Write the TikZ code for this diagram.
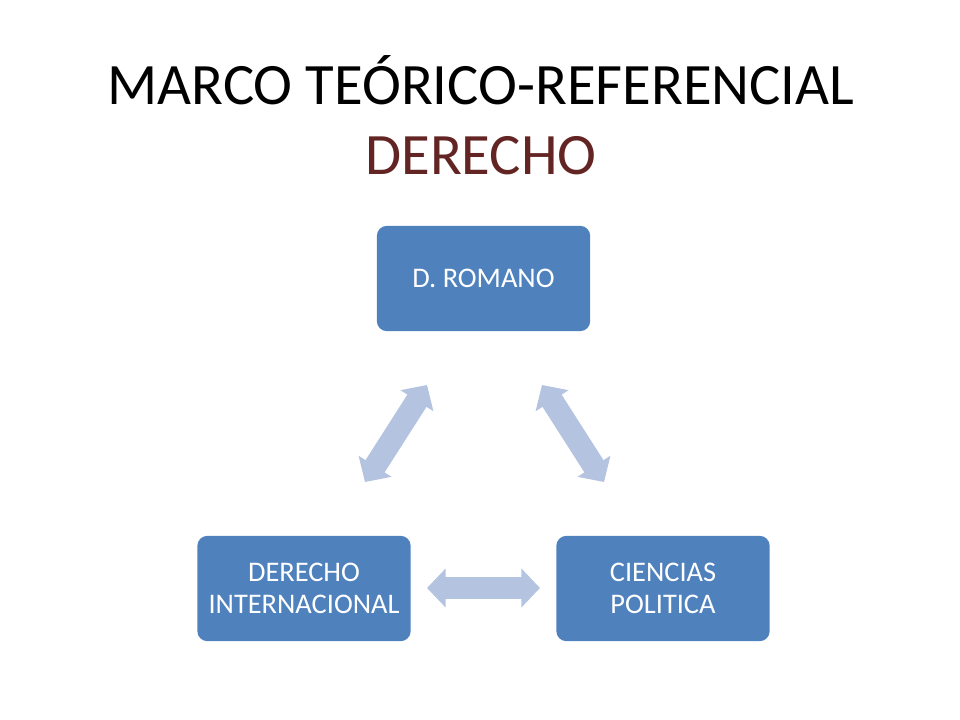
\documentclass[tikz,border=0pt]{standalone}
\usepackage{fontspec}
\setmainfont{Carlito}
\usetikzlibrary{arrows.meta}
\definecolor{boxblue}{RGB}{79,129,189}
\definecolor{arrowblue}{RGB}{179,195,224}
\definecolor{titlered}{RGB}{99,37,35}
\tikzset{
  box/.style={fill=boxblue, rounded corners=7.5pt, minimum width=160pt, minimum height=79pt,
    text=white, align=center, inner sep=0pt, font=\fontsize{21.3}{23.5}\selectfont},
  blockarrow/.style={arrowblue, line width=17pt,
    {Triangle[width=28.5pt,length=14pt]}-{Triangle[width=28.5pt,length=14pt]}},
  titlefont/.style={font=\fontsize{44}{53}\selectfont, inner sep=0pt}
}
\begin{document}
\begin{tikzpicture}[x=0.75pt,y=-0.75pt]
\useasboundingbox (0,0) rectangle (960,720);
\node[titlefont, anchor=base] (t1) at (481,105) {MARCO TEÓRICO-REFERENCIAL};
\node[titlefont, anchor=base, text=titlered] (t2) at (481,175) {DERECHO};
\node[box] (rom) at (483.5,278.5) {D. ROMANO};
\node[box] (int) at (304,588.5) {DERECHO\\INTERNACIONAL};
\node[box] (cie) at (663,588.5) {CIENCIAS\\POLITICA};
\coordinate (l1) at (365,482);
\coordinate (l2) at (427,385);
\coordinate (r1) at (542,385);
\coordinate (r2) at (604,482);
\coordinate (h1) at (427,588);
\coordinate (h2) at (540,588);
\draw[blockarrow] (l1) -- (l2);
\draw[blockarrow] (r1) -- (r2);
\draw[blockarrow] (h1) -- (h2);
\end{tikzpicture}
\end{document}
